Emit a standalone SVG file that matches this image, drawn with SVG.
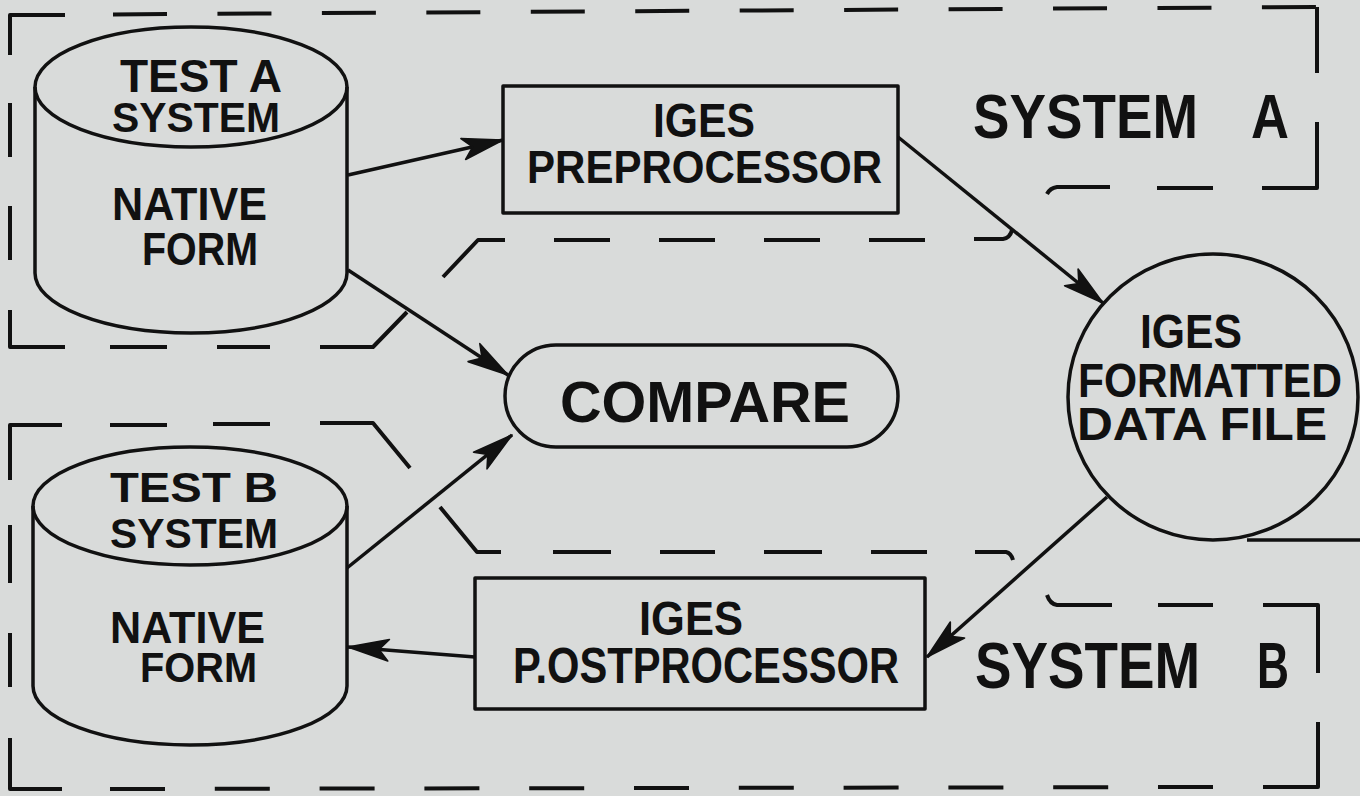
<svg xmlns="http://www.w3.org/2000/svg" width="1360" height="796" viewBox="0 0 1360 796">
  <style>
    .bg { fill: #d9dbda; }
    .shape { fill: none; stroke: #111; stroke-width: 3.5; stroke-linejoin: round; }
    .bound { fill: none; stroke: #111; stroke-width: 4; stroke-linecap: butt; stroke-linejoin: round; }
    .flow { fill: none; stroke: #111; stroke-width: 3.5; marker-end: url(#head); }
    .lbl { font-family: "Liberation Sans", Arial, Helvetica, sans-serif; font-weight: bold; fill: #111; }
  </style>
  <defs>
    <marker id="head" markerUnits="userSpaceOnUse" markerWidth="50" markerHeight="30" refX="0" refY="0" viewBox="-42 -14 46 28" orient="auto">
      <path d="M0,0 L-38,-10 L-29,0 L-38,10 Z" fill="#111" stroke="#111" stroke-width="1.5" stroke-linejoin="round"/>
    </marker>
  </defs>

  <rect class="bg" x="0" y="0" width="1360" height="796"/>

  <!-- system boundaries (dashed outlines) -->
  <g id="boundary-system-a">
    <path class="bound" d="M10,55 V15 H65"/>
    <path class="bound" d="M113,14.4 L1317,7" stroke-dasharray="54 50.45"/>
    <path class="bound" d="M1317,7 V73 M1317,122 V188 H1262 M1213,188 H1157 M1110,187 H1057 Q1050,188 1047,194"/>
    <path class="bound" d="M10,103 V157 M10,206 V260 M10,310 V347 H65 M110,347 H167 M217,347 H270 M320,347 H373 L407,312 M443,277 L478,240 H505"/>
    <path class="bound" d="M554,240 H610 M659,240 H715 M764,240 H820 M869,240 H925 M974,239 H1003 Q1010,238 1012,230"/>
    <text class="lbl" font-size="63" y="138"><tspan x="973" textLength="225" lengthAdjust="spacingAndGlyphs">SYSTEM</tspan><tspan x="1251" textLength="38" lengthAdjust="spacingAndGlyphs">A</tspan></text>
  </g>

  <g id="boundary-system-b">
    <path class="bound" d="M10,480 V425 H62 M110,425 H167 M213,424 H270 M320,423 H373 L410,468 M440,507 L477,552 H501"/>
    <path class="bound" d="M553,552 H611 M660,552 H715 M764,552 H822 M871,552 H927 M975,552 H1006 Q1011,553 1013,560"/>
    <path class="bound" d="M1047,595 Q1050,604 1057,605 H1112 M1158,605 H1213 M1263,605 H1318 V673 M1318,722 V787 H1263"/>
    <path class="bound" d="M10,525 V583 M10,633 V687 M10,738 V789 H62"/>
    <path class="bound" d="M110,789 L1214,787" stroke-dasharray="55 49.8"/>
    <text class="lbl" font-size="64" y="688"><tspan x="975" textLength="225" lengthAdjust="spacingAndGlyphs">SYSTEM</tspan><tspan x="1257" textLength="32" lengthAdjust="spacingAndGlyphs">B</tspan></text>
  </g>

  <!-- nodes -->
  <g id="test-a-native-form">
    <path class="shape" d="M35,87 V273 A156,60 0 0 0 347,273 V87"/>
    <ellipse class="shape" cx="191" cy="87" rx="156" ry="60"/>
    <text class="lbl" font-size="46" x="120" y="92" textLength="162" lengthAdjust="spacingAndGlyphs">TEST A</text>
    <text class="lbl" font-size="42" x="112" y="132" textLength="168" lengthAdjust="spacingAndGlyphs">SYSTEM</text>
    <text class="lbl" font-size="46" x="112" y="220" textLength="155" lengthAdjust="spacingAndGlyphs">NATIVE</text>
    <text class="lbl" font-size="47" x="142" y="265" textLength="116" lengthAdjust="spacingAndGlyphs">FORM</text>
  </g>

  <g id="test-b-native-form">
    <path class="shape" d="M33,506 V686 A157,59 0 0 0 347,686 V506"/>
    <ellipse class="shape" cx="190" cy="506" rx="157" ry="59"/>
    <text class="lbl" font-size="42" x="110" y="502" textLength="168" lengthAdjust="spacingAndGlyphs">TEST B</text>
    <text class="lbl" font-size="42" x="110" y="548" textLength="168" lengthAdjust="spacingAndGlyphs">SYSTEM</text>
    <text class="lbl" font-size="44" x="110" y="643" textLength="155" lengthAdjust="spacingAndGlyphs">NATIVE</text>
    <text class="lbl" font-size="42" x="140" y="682" textLength="117" lengthAdjust="spacingAndGlyphs">FORM</text>
  </g>

  <g id="iges-preprocessor">
    <rect class="shape" x="503" y="86" width="395" height="127"/>
    <text class="lbl" font-size="48" x="653" y="137" textLength="102" lengthAdjust="spacingAndGlyphs">IGES</text>
    <text class="lbl" font-size="47" x="527" y="183" textLength="355" lengthAdjust="spacingAndGlyphs">PREPROCESSOR</text>
  </g>

  <g id="iges-postprocessor">
    <rect class="shape" x="475" y="578" width="450" height="131"/>
    <text class="lbl" font-size="49" x="639" y="635" textLength="104" lengthAdjust="spacingAndGlyphs">IGES</text>
    <text class="lbl" font-size="50" x="513" y="683" textLength="386" lengthAdjust="spacingAndGlyphs">P.OSTPROCESSOR</text>
  </g>

  <g id="compare">
    <rect class="shape" x="505" y="345" width="393" height="102" rx="51" ry="51"/>
    <text class="lbl" font-size="57" x="560" y="422" textLength="290" lengthAdjust="spacingAndGlyphs">COMPARE</text>
  </g>

  <g id="iges-data-file">
    <ellipse class="shape" cx="1213" cy="397" rx="145" ry="143"/>
    <path class="shape" d="M1247,540 H1360"/>
    <text class="lbl" font-size="48" x="1140" y="348" textLength="102" lengthAdjust="spacingAndGlyphs">IGES</text>
    <text class="lbl" font-size="48" x="1078" y="397" textLength="264" lengthAdjust="spacingAndGlyphs">FORMATTED</text>
    <text class="lbl" font-size="46" x="1077" y="440" textLength="250" lengthAdjust="spacingAndGlyphs">DATA FILE</text>
  </g>

  <!-- connectors -->
  <g id="connectors">
    <path class="flow" d="M348,175 L503,140"/>
    <path class="flow" d="M348,270 L508,375"/>
    <path class="flow" d="M347,568 L512,435"/>
    <path class="flow" d="M898,137 L1103,303"/>
    <path class="flow" d="M1107,497 L927,657"/>
    <path class="flow" d="M475,657 L348,647"/>
  </g>
</svg>
